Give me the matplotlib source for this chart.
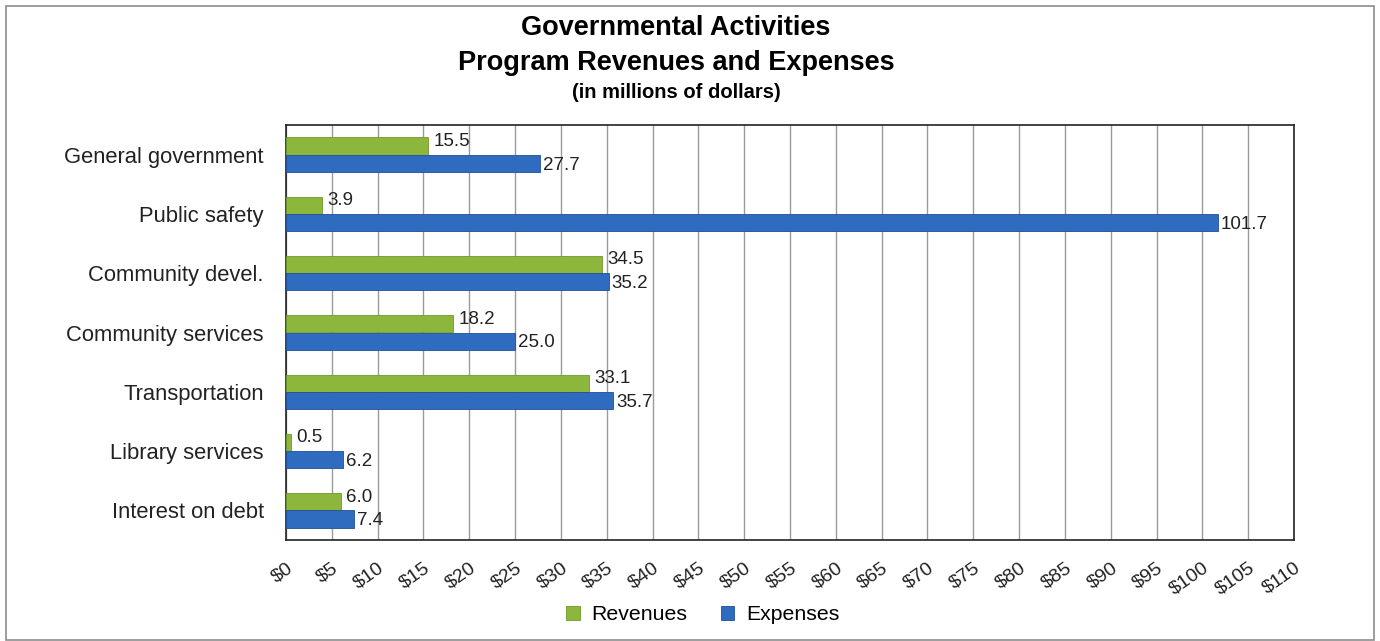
import matplotlib
matplotlib.use("Agg")
import matplotlib.pyplot as plt
import numpy as np

plt.rcParams['font.family'] = ['Liberation Sans', 'DejaVu Sans']

categories = ["General government", "Public safety", "Community devel.",
              "Community services", "Transportation", "Library services",
              "Interest on debt"]
revenues = [15.5, 3.9, 34.5, 18.2, 33.1, 0.5, 6.0]
expenses = [27.7, 101.7, 35.2, 25.0, 35.7, 6.2, 7.4]
xticks = list(range(0, 111, 5))
xticklabels = [f"${v}" for v in xticks]

green = "#8DB63C"
blue = "#2F6CC0"

fig = plt.figure(figsize=(13.8, 6.41), dpi=100)
ax = fig.add_axes([286/1380, 1-540/641, (1294-286)/1380, (540-125)/641])

y = np.arange(len(categories))
h = 0.29
ax.barh(y - h/2, revenues, height=h, color=green, edgecolor="#6E9A2A", linewidth=0.6, label="Revenues", zorder=3)
ax.barh(y + h/2, expenses, height=h, color=blue, edgecolor="#1F4F95", linewidth=0.6, label="Expenses", zorder=3)

for yi, v in zip(y, revenues):
    ax.text(v + 0.6, yi - h/2 - 0.08, f"{v:.1f}", va="center", ha="left", fontsize=13.5, color="#222222", zorder=4)
for yi, v in zip(y, expenses):
    ax.text(v + 0.3, yi + h/2 + 0.03, f"{v:.1f}", va="center", ha="left", fontsize=13.5, color="#222222", zorder=4)

ax.set_xlim(0, 110)
ax.set_ylim(len(categories) - 0.5, -0.5)
ax.set_yticks(y)
ax.set_yticklabels(categories, fontsize=15.8, color="#222222")
ax.set_xticks(xticks)
ax.set_xticklabels(xticklabels, fontsize=14, rotation=35, ha="right", rotation_mode="anchor", color="#222222")
ax.tick_params(axis="y", length=0, pad=16)
ax.tick_params(axis="x", length=0, pad=14)
ax.grid(axis="x", color="#9A9A9A", linewidth=1, zorder=0)
for s in ax.spines.values():
    s.set_color("#222222")
    s.set_linewidth(1.2)

fig.text(676/1380, 1-28/641, "Governmental Activities", ha="center", va="center", fontsize=19.5, fontweight="bold")
fig.text(676/1380, 1-63/641, "Program Revenues and Expenses", ha="center", va="center", fontsize=19.5, fontweight="bold")
fig.text(676/1380, 1-93/641, "(in millions of dollars)", ha="center", va="center", fontsize=14.5, fontweight="bold")

leg = fig.legend(loc="center", bbox_to_anchor=(703/1380, 1-615/641), ncol=2, frameon=False,
                 fontsize=15.3, handlelength=0.62, handleheight=0.62, columnspacing=1.6, handletextpad=0.55)

border = plt.Rectangle((6/1380, 1/641), 1368/1380, 634/641, transform=fig.transFigure,
                       fill=False, edgecolor="#8C8C8C", linewidth=1.2)
fig.patches.append(border)

fig.savefig("out.png", dpi=100)
